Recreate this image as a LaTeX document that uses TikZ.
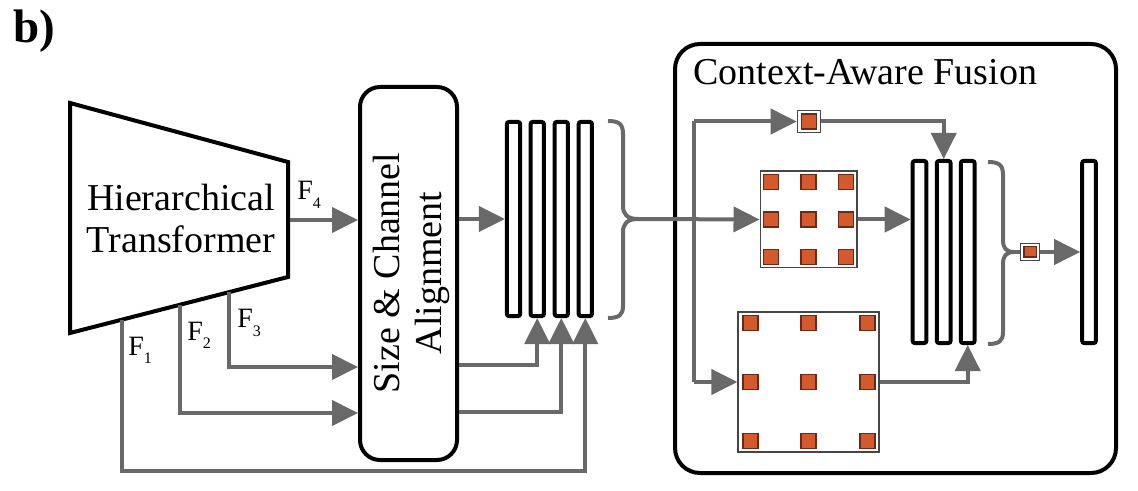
\documentclass[tikz,border=0pt]{standalone}
\usepackage{fontspec}
\setmainfont{Liberation Serif}
\usetikzlibrary{arrows.meta}
\definecolor{gl}{RGB}{105,105,105}
\definecolor{org}{RGB}{210,90,45}
\definecolor{orgd}{RGB}{110,40,20}
\definecolor{bxc}{RGB}{70,70,70}
\newcommand{\sbs}[1]{\raisebox{-0.3em}{\fontsize{8pt}{8pt}\selectfont #1}}
\begin{document}
\begin{tikzpicture}[x=0.5pt,y=-0.5pt,
  blk/.style={draw=black,line width=2pt},
  gline/.style={draw=gl,line width=2pt},
  arr/.style={gline,-{Triangle[length=13pt,width=12.5pt]}},
  bar/.style={blk,fill=white,minimum width=6.6pt,minimum height=97pt,inner sep=0pt,rounded corners=1pt},
  fbar/.style={blk,fill=white,minimum width=6.8pt,minimum height=91pt,inner sep=0pt,rounded corners=1pt},
  gbox/.style={draw=bxc,line width=0.8pt,fill=white,inner sep=0pt},
  osq/.style={draw=orgd,fill=org,line width=0.8pt,minimum size=7.5pt,inner sep=0pt},
  big/.style={font=\fontsize{19pt}{21pt}\selectfont},
  flab/.style={font=\fontsize{14pt}{14pt}\selectfont,anchor=base west,inner sep=0pt}
]
\useasboundingbox (0,0) rectangle (1138,491);

% panel label
\node[font=\fontsize{23.5pt}{25pt}\selectfont\bfseries,anchor=base west,inner sep=0pt] (lbl) at (13,43) {b)};

% fusion frame
\node[blk,rounded corners=12.5pt,minimum width=220.5pt,minimum height=214.5pt,inner sep=0pt] (fus) at (895.5,258.5) {};
\node[big,anchor=base west,inner sep=0pt] (title) at (693,85) {Context-Aware Fusion};

% trapezoid
\draw[blk,line join=miter] (70,103) coordinate (tTL) -- (288,162) coordinate (tTR) -- (288,277) coordinate (tBR) -- (70,333) coordinate (tBL) -- cycle;
\node[big,align=center,inner sep=0pt] (ht) at (181,219) {Hierarchical\\Transformer};

% alignment box
\node[blk,rounded corners=10pt,minimum width=48.5pt,minimum height=186.5pt,inner sep=0pt] (al) at (408.5,273.5) {};
\node[big,rotate=90,align=center,inner sep=0pt] (alt) at (411,273) {Size \& Channel\\Alignment};

% bars
\node[bar] (b1) at (513.5,219) {};
\node[bar] (b2) at (537.2,219) {};
\node[bar] (b3) at (561.3,219) {};
\node[bar] (b4) at (585.3,219) {};

% fusion elements
\node[gbox,minimum width=11.5pt,minimum height=11pt] (s1) at (809,121.5) {};
\node[osq] (s1o) at (s1) {};
\node[gbox,minimum width=48.2pt,minimum height=48.2pt] (mid) at (808.5,219.5) {};
\foreach \i in {-1,0,1}{\foreach \j in {-1,0,1}{
  \node[osq] (m\i\j) at ([shift={(37.5*\i,37.5*\j)}]mid.center) {};}}
\node[gbox,minimum width=70.5pt,minimum height=70pt] (bg) at (808.7,382) {};
\foreach \i in {-1,0,1}{\foreach \j in {-1,0,1}{
  \node[osq] (g\i\j) at ([shift={(58.5*\i,59*\j)}]bg.center) {};}}
\node[fbar] (c1) at (919.5,252) {};
\node[fbar] (c2) at (943.7,252) {};
\node[fbar] (c3) at (967.7,252) {};
\node[gbox,minimum width=9.5pt,minimum height=8.5pt] (s2) at (1030,252) {};
\node[osq,minimum width=6.3pt,minimum height=5.3pt] (s2o) at (s2) {};
\node[fbar] (fb) at (1089,252) {};

% coordinates
\coordinate (f4) at (290,220);
\coordinate (f3) at (229,292);
\coordinate (f2) at (180,305);
\coordinate (f1) at (122,320);
\coordinate (r367) at (0,367);
\coordinate (r413) at (0,413);
\coordinate (r471) at (0,471);
\coordinate (r365) at (0,365);
\coordinate (r412) at (0,412);
\coordinate (br1) at (638,219);
\coordinate (bx) at (694,219);
\coordinate (br2) at (1014,252);

% F labels
\node[flab] (l4) at (297,200) {F\sbs{4}};
\node[flab] (l3) at (237,328) {F\sbs{3}};
\node[flab] (l2) at (187,340) {F\sbs{2}};
\node[flab] (l1) at (128,355) {F\sbs{1}};

% connectors left
\draw[arr] (f4) -- (f4 -| al.west);
\draw[arr] (f3) |- (al.west |- r367);
\draw[arr] (f2) |- (al.west |- r413);
\draw[arr] (f1) |- (b4.south |- r471) -- (b4.south);
\draw[arr] (al.east |- b1.west) -- (b1.west);
\draw[arr] (al.east |- r365) -| (b2.south);
\draw[arr] (al.east |- r412) -| (b3.south);

% brace 1
\draw[gline] (608,121) .. controls (619,121) and (623,124) .. (623,134) -- (623,206) .. controls (623,214) and (627,219) .. (br1);
\draw[gline] (br1) .. controls (627,219) and (623,224) .. (623,232) -- (623,306) .. controls (623,315) and (619,318) .. (608,318);
\draw[arr] (br1) -- (mid.west);
\draw[arr] (bx |- s1.west) -- (s1.west);
\draw[gline] (bx |- s1.west) -- (bx |- bg.west);
\draw[arr] (bx |- bg.west) -- (bg.west);
\draw[arr] (s1.east) -| (c2.north);
\draw[arr] (mid.east) -- (mid.east -| c1.west);
\draw[arr] (bg.east) -| (c3.south);

% brace 2
\draw[gline] (988,162) .. controls (999,162) and (1003,165) .. (1003,175) -- (1003,240) .. controls (1003,248) and (1006,252) .. (br2);
\draw[gline] (br2) .. controls (1006,252) and (1003,256) .. (1003,264) -- (1003,332) .. controls (1003,341) and (999,344) .. (988,344);
\draw[gline] (br2) -- (s2.west);
\draw[arr] (s2.east) -- (s2.east -| fb.west);
\end{tikzpicture}
\end{document}
